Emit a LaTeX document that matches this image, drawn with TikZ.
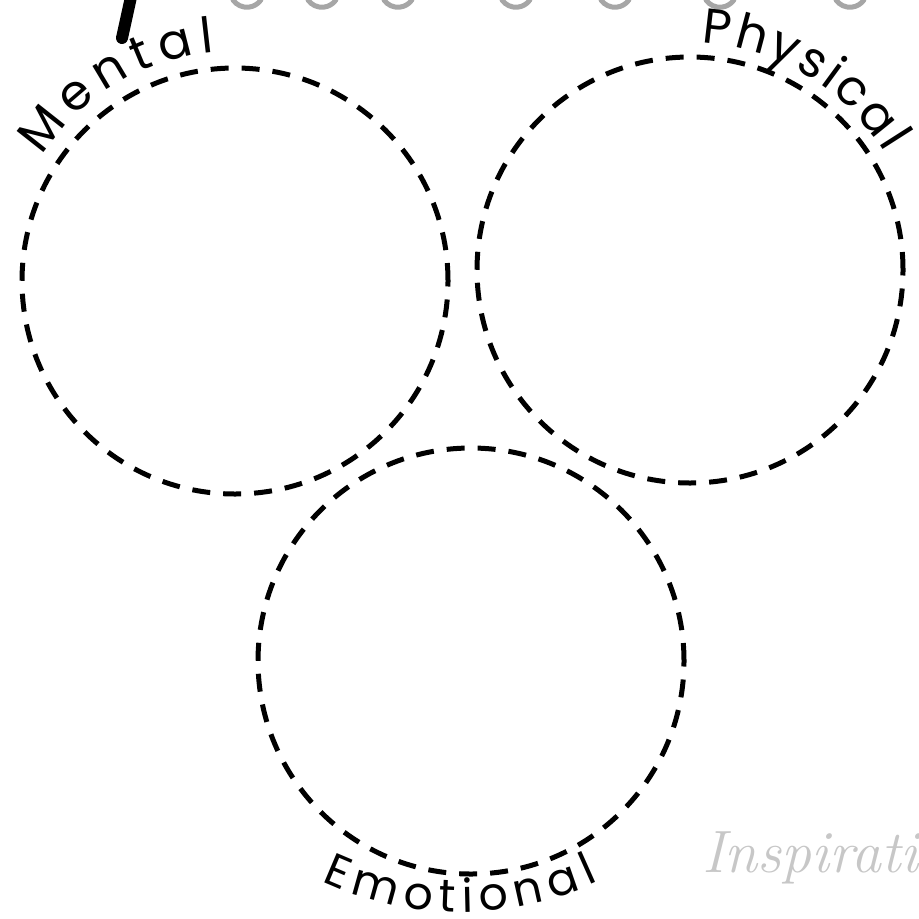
\documentclass[tikz,border=0pt]{standalone}
\usepackage{fontspec}
\newfontfamily\handfont{Poppins}
\usepackage{tikz}
\usetikzlibrary{decorations.text}

\begin{document}
\begin{tikzpicture}[
  ring/.style={circle, draw, minimum size=4.26cm, inner sep=0pt, line width=0.05cm,
    dash pattern=on 0.18cm off 0.13cm},
  arclabel/.style={decorate, decoration={text along path, text align={fit to path}, text color=black}},
  titlebit/.style={line width=0.05cm, line cap=round, black!35}
]
  \useasboundingbox (0,0) rectangle (9.19,-9.18);
  % Cut-off title at the top edge
  \draw[line width=0.12cm, line cap=round] (1.31,0.03) -- (1.22,-0.38);
  \foreach \x in {2.47, 3.22, 3.98, 5.16, 6.15, 7.20, 8.50} {
    \draw[titlebit] (\x-0.14,0.0) arc[start angle=215, end angle=325, radius=0.17];
  }
  % Circles
  \foreach \name/\x/\y in {mental/2.35/-2.81, physical/6.90/-2.70, emotional/4.71/-6.61} {
    \node[ring] (\name) at (\x,\y) {};
  }
  % Labels along the circles
  \path[arclabel, decoration={text={|\handfont\fontsize{14}{16}\selectfont|Mental}}]
    (mental.center) ++(147:2.30) arc[start angle=147, end angle=95, radius=2.30];
  \path[arclabel, decoration={text={|\handfont\fontsize{14}{16}\selectfont|Physical}}]
    (physical.center) ++(87:2.27) arc[start angle=87, end angle=31, radius=2.27];
  \path[arclabel, decoration={text={|\handfont\fontsize{13}{15}\selectfont|Emotional}}]
    (emotional.center) ++(-0.11,0.77) ++(-115:3.28) arc[start angle=-115, end angle=-65, radius=3.28];
  % Watermark
  \node[anchor=base west, font=\itshape\fontsize{17}{20}\selectfont, text=black!22] (mark) at (6.90,-8.72) {Inspiration};
\end{tikzpicture}
\end{document}
